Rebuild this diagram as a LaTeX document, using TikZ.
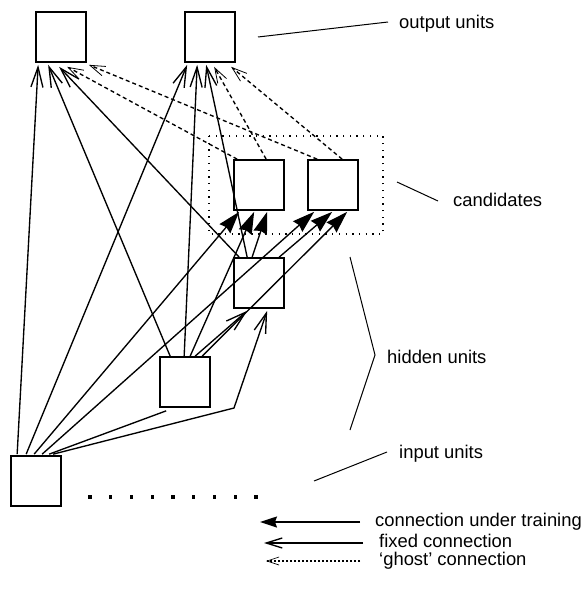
\documentclass[tikz,border=0pt]{standalone}
\usepackage{fontspec}
\setmainfont{Liberation Sans}
\usetikzlibrary{arrows.meta,calc}
\begin{document}
\begin{tikzpicture}[x=1pt,y=-1pt,
  unit/.style={draw,line width=1.7pt,minimum size=50pt,inner sep=0pt},
  conn/.style={line width=1.35pt},
  fixedarr/.style={conn,-{Straight Barb[length=20pt,width=12pt,line width=1.35pt]}},
  trainarr/.style={conn,-{Stealth[length=22pt,width=14pt,inset=2pt]}},
  ghostarr/.style={line width=1.35pt,dash pattern=on 4pt off 3pt,-{Straight Barb[length=15pt,width=10pt,line width=0.8pt]}},
  lbl/.style={anchor=base west,inner sep=0pt,font=\fontsize{18.4}{21}\selectfont},
  ptr/.style={line width=1pt},
  dotbox/.style={line width=1.3pt,dash pattern=on 1.3pt off 5.4pt}
]
\useasboundingbox (0,0) rectangle (584,596);

% units
\node[unit] (O1) at (61,37) {};
\node[unit] (O2) at (210,37) {};
\node[unit] (C1) at (259,185) {};
\node[unit] (C2) at (333,185) {};
\node[unit] (H1) at (259,283) {};
\node[unit] (H2) at (185,382) {};
\node[unit] (I)  at (36,481) {};

% candidate pool
\draw[dotbox] (209,136) rectangle (383,234);

% input unit connections
\draw[fixedarr] ($(I.north west)+(7,-1)$) -- ($(O1.south west)+(3,2)$);
\draw[fixedarr] ($(I.north west)+(16,-1)$) -- ($(O2.south west)+(3,2)$);
\draw[trainarr] ($(I.north west)+(24,-1)$) -- ($(C1.south west)+(6,1)$);
\draw[trainarr] ($(I.north west)+(32,-1)$) -- ($(C2.south west)+(7,1)$);
\draw[conn] ($(I.north west)+(39,-1)$) -- ($(H2.south west)+(7,3)$);
\coordinate (bend) at (234,408);
\draw[fixedarr] ($(I.north west)+(43,-1)$) -- (bend) -- ($(H1.south west)+(34,2)$);

% hidden unit 2 connections
\draw[fixedarr] ($(H2.north west)+(11,0)$) -- ($(O1.south west)+(13,2)$);
\draw[fixedarr] ($(H2.north west)+(25,0)$) -- ($(O2.south west)+(13,2)$);
\draw[trainarr] ($(H2.north west)+(31,0)$) -- ($(C1.south west)+(21,1)$);
\draw[fixedarr] ($(H2.north west)+(36,0)$) -- ($(H1.south west)+(14,2)$);
\draw[trainarr] ($(H2.north west)+(43,0)$) -- ($(C2.south west)+(40,1)$);

% hidden unit 1 connections
\draw[fixedarr] ($(H1.north west)+(6,0)$) -- ($(O1.south west)+(24,4)$);
\draw[fixedarr] ($(H1.north west)+(14,0)$) -- ($(O2.south west)+(22,2)$);
\draw[trainarr] ($(H1.north west)+(19,0)$) -- ($(C1.south west)+(34,1)$);
\draw[trainarr] ($(H1.north west)+(46,0)$) -- ($(C2.south west)+(25,1)$);

% ghost connections
\draw[ghostarr] ($(C1.north west)+(4,0)$) -- ($(O1.south west)+(32,4)$);
\draw[ghostarr] ($(C2.north west)+(10,0)$) -- ($(O1.south east)+(2,2)$);
\draw[ghostarr] ($(C1.north west)+(33,0)$) -- ($(O2.south west)+(30,4)$);
\draw[ghostarr] ($(C2.north west)+(35,0)$) -- ($(O2.south west)+(47,4)$);

% more inputs
\foreach \k in {0,...,8}
  \fill ({90+20.75*\k-1.7},495.3) rectangle ++(3.4,3.4);

% labels
\node[lbl] (Lout) at (399,29) {output units};
\node[lbl] (Lcand) at (453,206) {candidates};
\node[lbl] (Lhid) at (387,363) {hidden units};
\node[lbl] (Lin) at (399,458) {input units};
\draw[ptr] (388,22) -- (258,37);
\draw[ptr] (397,182) -- (438,201);
\draw[ptr] (350,257) -- (375,355) -- (350,430);
\draw[ptr] (387,452) -- (314,481);

% legend
\coordinate (a1s) at (360,522); \coordinate (a1e) at (260,522);
\coordinate (a2s) at (363,543); \coordinate (a2e) at (264,543);
\coordinate (a3s) at (360,561); \coordinate (a3e) at (266,561);
\draw[conn,-{Stealth[length=17pt,width=11pt,inset=2pt]}] (a1s) -- (a1e);
\draw[conn,-{Straight Barb[length=16pt,width=10pt,line width=1.35pt]}] (a2s) -- (a2e);
\draw[line width=1.1pt,dash pattern=on 2.5pt off 1.5pt,-{Straight Barb[length=12pt,width=8pt,line width=0.7pt]}] (a3s) -- (a3e);
\node[lbl] (T1) at (375,526) {connection under training};
\node[lbl] (T2) at (379,547) {fixed connection};
\node[lbl] (T3) at (379,565) {‘ghost’ connection};
\end{tikzpicture}
\end{document}
